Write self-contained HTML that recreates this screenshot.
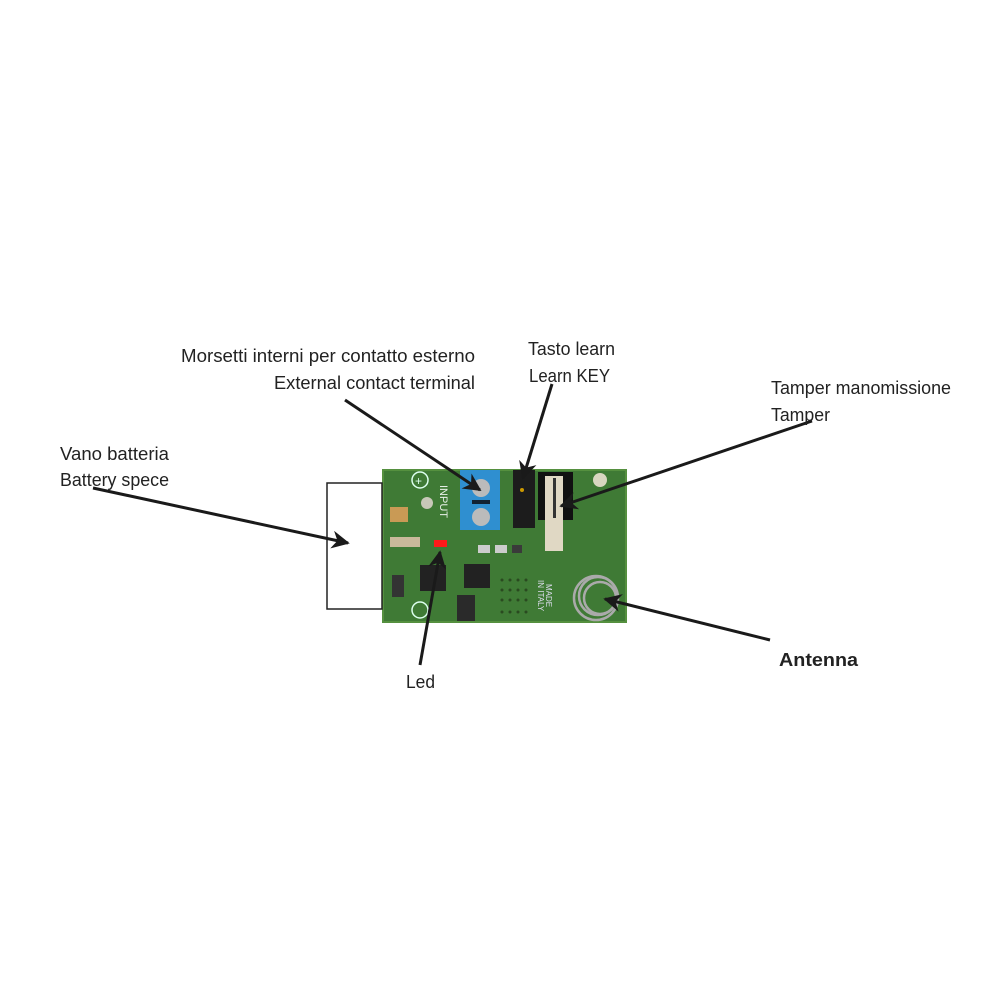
<!DOCTYPE html>
<html><head><meta charset="utf-8"><style>
html,body{margin:0;padding:0;background:#fff;}
svg{display:block;}
text{font-family:"Liberation Sans Narrow","Liberation Sans",sans-serif;fill:#222;font-size:18px;}
</style></head><body>
<svg width="1000" height="1000" viewBox="0 0 1000 1000">
<defs>
<marker id="ah" viewBox="0 0 10 10" refX="9" refY="5" markerWidth="6" markerHeight="6" orient="auto"><path d="M0,0 L10,5 L0,10 L3,5 z" fill="#1a1a1a"/></marker>
</defs>
<!-- PCB -->
<rect x="383" y="470" width="243" height="152" fill="#3f7a35"/>
<rect x="383" y="470" width="243" height="152" fill="none" stroke="#55903f" stroke-width="2"/>
<circle cx="420" cy="480" r="8" fill="none" stroke="#dfe" stroke-width="1.5"/>
<text x="415" y="485" style="font-size:12px;fill:#dfe">+</text>
<circle cx="420" cy="610" r="8" fill="none" stroke="#dfe" stroke-width="1.5"/>
<rect x="390" y="507" width="18" height="15" fill="#c99a55"/>
<circle cx="427" cy="503" r="6" fill="#c8c8b8"/>
<circle cx="600" cy="480" r="7" fill="#d8d6c0"/>
<!-- terminal block -->
<rect x="460" y="470" width="40" height="60" fill="#2f8fd0"/>
<circle cx="481" cy="488" r="9" fill="#bbb"/>
<circle cx="481" cy="517" r="9" fill="#bbb"/>
<rect x="472" y="500" width="18" height="4" fill="#123"/>
<text x="440" y="485" transform="rotate(90 440 485)" style="font-size:11px;fill:#e8f0e8">INPUT</text>
<!-- learn key -->
<rect x="513" y="470" width="22" height="58" fill="#1c1c1c"/>
<circle cx="522" cy="490" r="2" fill="#c90"/>
<!-- tamper -->
<rect x="538" y="472" width="35" height="48" fill="#111"/>
<rect x="545" y="476" width="18" height="75" fill="#e0d8c4"/>
<rect x="553" y="478" width="3" height="40" fill="#333"/>
<!-- led -->
<rect x="434" y="540" width="13" height="7" fill="#ff1a1a"/>
<!-- chips -->
<rect x="420" y="565" width="26" height="26" fill="#222"/>
<rect x="464" y="564" width="26" height="24" fill="#222"/>
<rect x="457" y="595" width="18" height="26" fill="#2a2a2a"/>
<rect x="390" y="537" width="30" height="10" fill="#c9b99a"/>
<rect x="392" y="575" width="12" height="22" fill="#333"/>
<rect x="478" y="545" width="12" height="8" fill="#ccc"/>
<rect x="495" y="545" width="12" height="8" fill="#ccc"/>
<rect x="512" y="545" width="10" height="8" fill="#3a3a3a"/>
<g fill="#2a4a20"><circle cx="502" cy="580" r="1.5"/><circle cx="510" cy="580" r="1.5"/><circle cx="518" cy="580" r="1.5"/><circle cx="526" cy="580" r="1.5"/><circle cx="502" cy="590" r="1.5"/><circle cx="510" cy="590" r="1.5"/><circle cx="518" cy="590" r="1.5"/><circle cx="526" cy="590" r="1.5"/><circle cx="502" cy="600" r="1.5"/><circle cx="510" cy="600" r="1.5"/><circle cx="518" cy="600" r="1.5"/><circle cx="526" cy="600" r="1.5"/><circle cx="502" cy="612" r="1.5"/><circle cx="510" cy="612" r="1.5"/><circle cx="518" cy="612" r="1.5"/><circle cx="526" cy="612" r="1.5"/></g>
<text x="546" y="584" transform="rotate(90 546 584)" style="font-size:8px;fill:#dde">MADE</text>
<text x="538" y="580" transform="rotate(90 538 580)" style="font-size:8px;fill:#dde">IN ITALY</text>
<!-- antenna coil -->
<g fill="none" stroke="#aaa" stroke-width="2.5"><circle cx="596" cy="598" r="22"/><circle cx="598" cy="596" r="19"/><circle cx="600" cy="598" r="16"/></g>
<!-- battery box -->
<rect x="327" y="483" width="55" height="126" fill="#fff" stroke="#222" stroke-width="1.5"/>
<!-- arrows -->
<g stroke="#1a1a1a" stroke-width="3" marker-end="url(#ah)">
<line x1="93" y1="488" x2="348" y2="543"/>
<line x1="345" y1="400" x2="480" y2="490"/>
<line x1="552" y1="384" x2="523" y2="478"/>
<line x1="812" y1="421" x2="561" y2="506"/>
<line x1="770" y1="640" x2="605" y2="599"/>
<line x1="420" y1="665" x2="440" y2="552"/>
</g>
<!-- labels -->
<text x="181" y="362" textLength="294" lengthAdjust="spacingAndGlyphs">Morsetti interni per contatto esterno</text>
<text x="274" y="389" textLength="201" lengthAdjust="spacingAndGlyphs">External contact terminal</text>
<text x="528" y="355" textLength="87" lengthAdjust="spacingAndGlyphs">Tasto learn</text>
<text x="529" y="382" textLength="81" lengthAdjust="spacingAndGlyphs">Learn KEY</text>
<text x="771" y="394" textLength="180" lengthAdjust="spacingAndGlyphs">Tamper manomissione</text>
<text x="771" y="421" textLength="59" lengthAdjust="spacingAndGlyphs">Tamper</text>
<text x="60" y="460" textLength="109" lengthAdjust="spacingAndGlyphs">Vano batteria</text>
<text x="60" y="486" textLength="109" lengthAdjust="spacingAndGlyphs">Battery spece</text>
<text x="779" y="666" textLength="79" lengthAdjust="spacingAndGlyphs" style="font-weight:bold">Antenna</text>
<text x="406" y="688" textLength="29" lengthAdjust="spacingAndGlyphs">Led</text>
</svg>
</body></html>
